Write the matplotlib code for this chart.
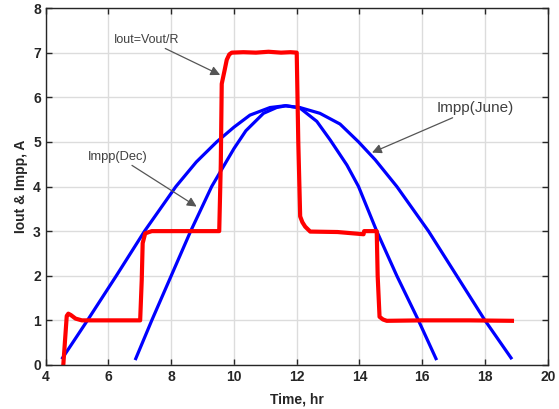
import numpy as np
import matplotlib
matplotlib.use('Agg')
from matplotlib import pyplot as plt

plt.rcParams['font.family'] = ['Liberation Sans', 'DejaVu Sans']

# Iout = Vout/R (red trace)
t_out = [4.56, 4.62, 4.67, 4.72, 4.8, 4.95, 5.15, 6.0, 7.01, 7.06, 7.09, 7.17, 7.38, 8.5, 9.53,
         9.58, 9.61, 9.7, 9.77, 9.85, 9.93, 10.3, 10.7, 11.1, 11.5, 11.8, 12.0,
         12.05, 12.11, 12.18, 12.27, 12.43, 13.3, 14.13, 14.15, 14.55,
         14.58, 14.64, 14.75, 14.87, 16.0, 17.5, 18.86]
i_out = [0.0, 0.6, 1.1, 1.15, 1.12, 1.04, 1.0, 1.0, 1.0, 1.9, 2.73, 2.95, 3.0, 3.0, 3.0,
         4.5, 6.3, 6.6, 6.84, 6.96, 7.0, 7.01, 7.0, 7.02, 7.0, 7.01, 7.0,
         5.0, 3.33, 3.2, 3.1, 2.99, 2.98, 2.93, 3.0, 3.0,
         2.0, 1.08, 1.02, 0.99, 1.0, 1.0, 0.99]

# Impp (June)
t_june = [4.51, 5.33, 6.25, 7.15, 8.15, 8.8, 9.45, 10.0, 10.51, 11.15, 11.63, 12.1,
          12.74, 13.38, 13.97, 14.5, 15.19, 16.2, 17.1, 18.0, 18.86]
i_june = [0.13, 1.0, 2.0, 3.0, 4.0, 4.55, 5.0, 5.33, 5.6, 5.77, 5.81, 5.77,
          5.64, 5.4, 5.0, 4.6, 4.0, 3.0, 2.0, 1.0, 0.13]

# Impp (Dec)
t_dec = [6.85, 7.38, 8.0, 8.62, 9.29, 10.0, 10.38, 10.94, 11.36, 11.66, 12.1, 12.64,
         13.07, 13.6, 13.97, 14.55, 15.19, 15.88, 16.46]
i_dec = [0.11, 1.0, 2.0, 3.0, 4.0, 4.85, 5.25, 5.64, 5.77, 5.81, 5.76, 5.46,
         5.04, 4.48, 4.0, 3.0, 2.0, 1.0, 0.11]

fig = plt.figure(figsize=(5.59, 4.09), dpi=100)
ax = fig.add_axes([0.0818, 0.1076, 0.898, 0.8728])

ax.plot(t_june, i_june, color='#0000ff', lw=2.3, solid_capstyle='butt', solid_joinstyle='round')
ax.plot(t_dec, i_dec, color='#0000ff', lw=2.3, solid_capstyle='butt', solid_joinstyle='round')
ax.plot(t_out, i_out, color='#ff0000', lw=3.0, solid_joinstyle='round')

ax.set_xlim(4, 20)
ax.set_ylim(0, 8)
ax.set_xticks(np.arange(4, 21, 2))
ax.set_yticks(np.arange(0, 9, 1))
ax.grid(True, color='#dcdcdc', lw=1.0)
ax.set_axisbelow(True)
ax.tick_params(direction='in', top=True, right=True, length=4, width=1, colors='#262626',
               labelsize=10)
for lab in ax.get_xticklabels() + ax.get_yticklabels():
    lab.set_fontweight('bold')
for sp in ax.spines.values():
    sp.set_color('#262626')
    sp.set_linewidth(1.0)

ax.set_xlabel('Time, hr', fontsize=10, fontweight='bold', color='#262626', labelpad=6)
ax.set_ylabel('Iout & Impp, A', fontsize=10, fontweight='bold', color='#262626', labelpad=4)

arrow = dict(arrowstyle='-|>', color='#555555', lw=0.9, mutation_scale=14, shrinkA=0, shrinkB=0)
ax.annotate('Iout=Vout/R', xy=(9.56, 6.5), xytext=(7.23, 7.29), fontsize=9, color='#404040',
            ha='center', va='center', arrowprops=arrow)
ax.annotate('Impp(Dec)', xy=(8.81, 3.55), xytext=(6.31, 4.67), fontsize=9.3, color='#404040',
            ha='center', va='center', arrowprops=arrow)
ax.annotate('Impp(June)', xy=(14.4, 4.76), xytext=(17.69, 5.76), fontsize=11, color='#404040',
            ha='center', va='center', arrowprops=arrow)

fig.savefig('out.png', dpi=100)
